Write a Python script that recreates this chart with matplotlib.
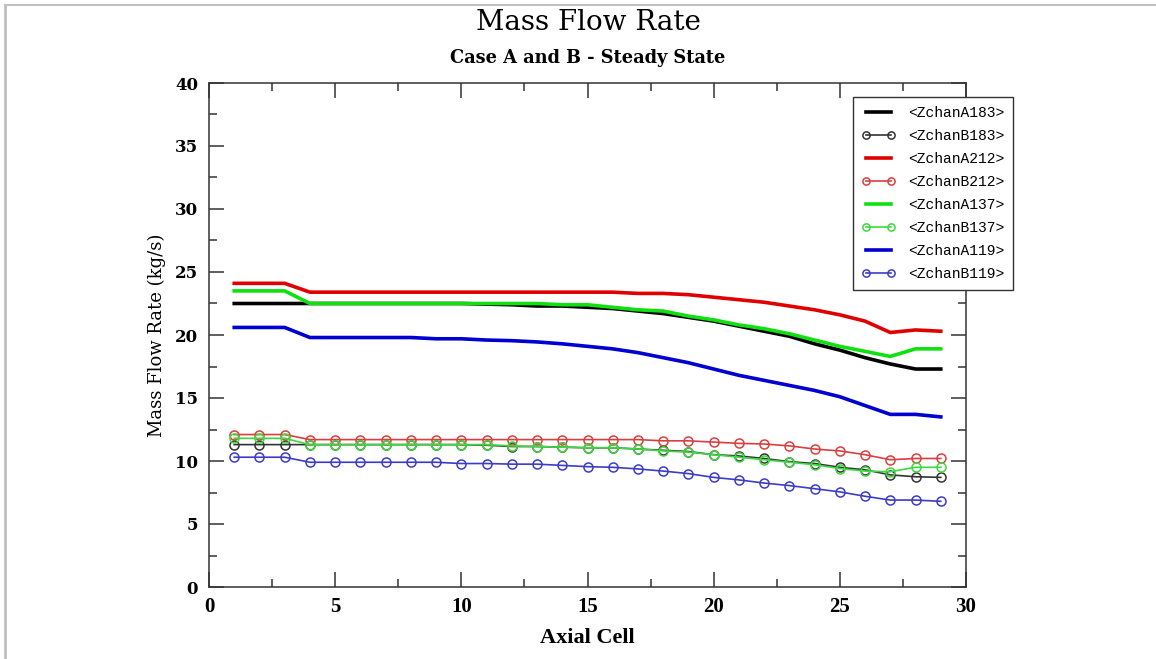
import matplotlib
matplotlib.use('Agg')
import matplotlib.pyplot as plt
from matplotlib.lines import Line2D
from matplotlib.ticker import MultipleLocator

# Axial cell index
cells = list(range(1, 30))

# Case A channels (solid lines)
a183 = [22.5, 22.5, 22.5, 22.5, 22.5, 22.5, 22.5, 22.5, 22.5, 22.5,
        22.45, 22.4, 22.3, 22.3, 22.2, 22.1, 21.9, 21.7, 21.4, 21.1,
        20.7, 20.3, 19.9, 19.3, 18.8, 18.2, 17.7, 17.3, 17.3]
a212 = [24.1, 24.1, 24.1, 23.4, 23.4, 23.4, 23.4, 23.4, 23.4, 23.4,
        23.4, 23.4, 23.4, 23.4, 23.4, 23.4, 23.3, 23.3, 23.2, 23.0,
        22.8, 22.6, 22.3, 22.0, 21.6, 21.1, 20.2, 20.4, 20.3]
a137 = [23.5, 23.5, 23.5, 22.5, 22.5, 22.5, 22.5, 22.5, 22.5, 22.5,
        22.5, 22.5, 22.5, 22.4, 22.4, 22.2, 22.0, 21.9, 21.5, 21.2,
        20.8, 20.5, 20.1, 19.6, 19.1, 18.7, 18.3, 18.9, 18.9]
a119 = [20.6, 20.6, 20.6, 19.8, 19.8, 19.8, 19.8, 19.8, 19.7, 19.7,
        19.6, 19.55, 19.45, 19.3, 19.1, 18.9, 18.6, 18.2, 17.8, 17.3,
        16.8, 16.4, 16.0, 15.6, 15.1, 14.4, 13.7, 13.7, 13.5]

# Case B channels (circle markers)
b183 = [11.3, 11.3, 11.3, 11.3, 11.3, 11.3, 11.3, 11.3, 11.3, 11.3,
        11.25, 11.15, 11.15, 11.1, 11.05, 11.05, 10.95, 10.85, 10.75, 10.5,
        10.4, 10.2, 9.95, 9.8, 9.5, 9.3, 8.9, 8.75, 8.7]
b212 = [12.1, 12.1, 12.1, 11.7, 11.7, 11.7, 11.7, 11.7, 11.7, 11.7,
        11.7, 11.7, 11.7, 11.7, 11.7, 11.7, 11.7, 11.6, 11.6, 11.5,
        11.4, 11.35, 11.2, 10.95, 10.8, 10.5, 10.1, 10.2, 10.2]
b137 = [11.8, 11.8, 11.8, 11.3, 11.3, 11.3, 11.3, 11.3, 11.3, 11.3,
        11.3, 11.2, 11.15, 11.1, 11.05, 11.05, 10.95, 10.8, 10.7, 10.5,
        10.3, 10.1, 9.9, 9.7, 9.4, 9.2, 9.15, 9.5, 9.5]
b119 = [10.3, 10.3, 10.3, 9.9, 9.9, 9.9, 9.9, 9.9, 9.9, 9.8,
        9.8, 9.75, 9.75, 9.65, 9.55, 9.5, 9.37, 9.2, 9.0, 8.7,
        8.5, 8.25, 8.05, 7.8, 7.55, 7.2, 6.9, 6.9, 6.8]

series = [
    ('<ZchanA183>', a183, '#000000', False),
    ('<ZchanB183>', b183, '#333333', True),
    ('<ZchanA212>', a212, '#e00000', False),
    ('<ZchanB212>', b212, '#d84040', True),
    ('<ZchanA137>', a137, '#10e010', False),
    ('<ZchanB137>', b137, '#40d840', True),
    ('<ZchanA119>', a119, '#0000d0', False),
    ('<ZchanB119>', b119, '#3c3cc8', True),
]

fig = plt.figure(figsize=(11.56, 6.59), dpi=100)
ax = fig.add_axes([209 / 1156, 1 - 587 / 659, 757 / 1156, 504 / 659])

for label, vals, color, marked in series:
    if marked:
        ax.plot(cells, vals, color=color, lw=1.2, marker='o', markersize=6.5,
                markerfacecolor='none', markeredgecolor=color,
                markeredgewidth=1.1, label=label)
    else:
        ax.plot(cells, vals, color=color, lw=2.6, label=label)

ax.set_xlim(0, 30)
ax.set_ylim(0, 40)
ax.xaxis.set_major_locator(MultipleLocator(5))
ax.xaxis.set_minor_locator(MultipleLocator(2.5))
ax.yaxis.set_major_locator(MultipleLocator(5))
ax.yaxis.set_minor_locator(MultipleLocator(2.5))
ax.tick_params(which='both', direction='in', top=True, right=True,
               color='#333333', width=1.1)
ax.tick_params(which='major', length=10.5)
ax.tick_params(which='minor', length=6)
ax.tick_params(axis='y', pad=8)
ax.tick_params(axis='x', pad=7)
for spine in ax.spines.values():
    spine.set_color('#333333')
    spine.set_linewidth(1.1)

for t in ax.get_yticklabels():
    t.set_fontfamily('DejaVu Serif')
    t.set_fontweight('bold')
    t.set_fontsize(12)
for t in ax.get_xticklabels():
    t.set_fontfamily('Liberation Serif')
    t.set_fontweight('bold')
    t.set_fontsize(15)

ax.set_ylabel('Mass Flow Rate (kg/s)', family='DejaVu Serif', fontsize=13,
              labelpad=6)
ax.set_xlabel('Axial Cell', family='Liberation Serif', fontweight='bold',
              fontsize=16, labelpad=8)

fig.text(588 / 1156, 1 - 22 / 659, 'Mass Flow Rate', family='DejaVu Serif',
         fontsize=20, ha='center', va='center')
fig.text(588 / 1156, 1 - 58 / 659, 'Case A and B - Steady State',
         family='DejaVu Serif', fontweight='bold', fontsize=12.8,
         ha='center', va='center')

leg = fig.legend(loc='upper left', bbox_to_anchor=(853 / 1156, 1 - 97 / 659),
                 bbox_transform=fig.transFigure, numpoints=2,
                 prop={'family': 'Liberation Mono', 'size': 10.5},
                 fancybox=False, framealpha=1, edgecolor='#333333',
                 borderaxespad=0, borderpad=0.6, handlelength=2.3,
                 handletextpad=0.9, labelspacing=0.62, markerscale=0.8)
leg.get_frame().set_linewidth(1.0)

# light border along the top and left of the canvas
fig.add_artist(Line2D([5 / 1156, 5 / 1156], [0, 1 - 5 / 659],
                      transform=fig.transFigure, color='#c0c0c0', lw=2))
fig.add_artist(Line2D([5 / 1156, 1], [1 - 5 / 659, 1 - 5 / 659],
                      transform=fig.transFigure, color='#c0c0c0', lw=1.5))

fig.savefig('out.png', dpi=100)
